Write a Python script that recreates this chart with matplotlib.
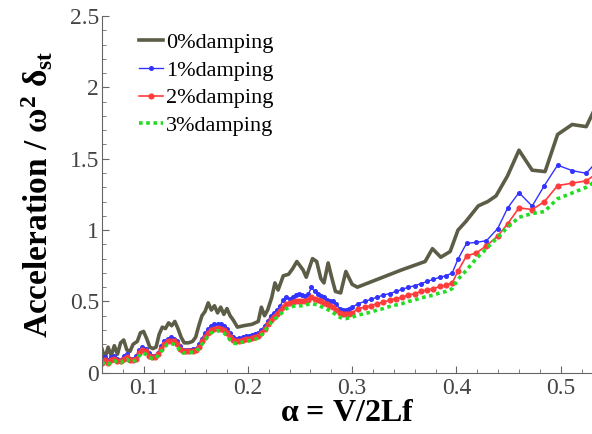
import matplotlib
matplotlib.use("Agg")
import matplotlib.pyplot as plt
from matplotlib.ticker import MultipleLocator

plt.rcParams["font.family"] = ["Liberation Serif", "DejaVu Serif"]
plt.rcParams["mathtext.fontset"] = "custom"
plt.rcParams["mathtext.rm"] = "Liberation Serif"
plt.rcParams["mathtext.it"] = "Liberation Serif:italic"
plt.rcParams["mathtext.bf"] = "Liberation Serif:bold"
plt.rcParams["mathtext.default"] = "bf"

# 0% damping (no markers, own sampling)
alpha_0 = [0.060, 0.063, 0.066, 0.069, 0.072, 0.075, 0.078, 0.081, 0.084, 0.087,
           0.090, 0.094, 0.097, 0.100, 0.103, 0.106, 0.109, 0.112, 0.115, 0.118,
           0.121, 0.124, 0.127, 0.130, 0.133, 0.136, 0.139, 0.143, 0.147, 0.150,
           0.153, 0.156, 0.159, 0.162, 0.165, 0.168, 0.171, 0.174, 0.177, 0.180,
           0.183, 0.186, 0.190, 0.196, 0.204, 0.210, 0.213, 0.216, 0.219, 0.223,
           0.226, 0.229, 0.234, 0.239, 0.243, 0.247, 0.253, 0.256, 0.262, 0.266,
           0.270, 0.273, 0.277, 0.280, 0.284, 0.289, 0.294, 0.300, 0.305, 0.347,
           0.370, 0.377, 0.385, 0.394, 0.4015, 0.409, 0.421, 0.430, 0.438, 0.449,
           0.460, 0.4726, 0.485, 0.497, 0.511, 0.5245, 0.536]
damp_0 = [0.17, 0.10, 0.18, 0.12, 0.19, 0.13, 0.21, 0.23, 0.16, 0.15,
          0.20, 0.22, 0.28, 0.29, 0.24, 0.18, 0.17, 0.18, 0.27, 0.32,
          0.31, 0.35, 0.33, 0.36, 0.31, 0.25, 0.21, 0.21, 0.22, 0.25,
          0.33, 0.40, 0.43, 0.49, 0.44, 0.47, 0.42, 0.46, 0.41, 0.45,
          0.40, 0.37, 0.32, 0.33, 0.34, 0.36, 0.46, 0.40, 0.44, 0.53,
          0.63, 0.58, 0.68, 0.69, 0.73, 0.78, 0.72, 0.67, 0.80, 0.78,
          0.66, 0.63, 0.77, 0.68, 0.57, 0.56, 0.71, 0.62, 0.60, 0.72,
          0.78, 0.87, 0.81, 0.85, 1.00, 1.06, 1.17, 1.20, 1.24, 1.38,
          1.56, 1.42, 1.41, 1.67, 1.74, 1.725, 1.90]

# damped cases share one sampling
alpha_d = [0.060, 0.063, 0.066, 0.069, 0.072, 0.075, 0.078, 0.081, 0.084, 0.087,
           0.090, 0.093, 0.096, 0.099, 0.102, 0.105, 0.108, 0.111, 0.114, 0.117,
           0.120, 0.123, 0.126, 0.129, 0.132, 0.135, 0.138, 0.141, 0.144, 0.147,
           0.150, 0.153, 0.156, 0.159, 0.162, 0.165, 0.168, 0.171, 0.174, 0.177,
           0.180, 0.183, 0.186, 0.189, 0.192, 0.195, 0.198, 0.201, 0.204, 0.207,
           0.210, 0.213, 0.216, 0.219, 0.222, 0.225, 0.228, 0.231, 0.234, 0.237,
           0.240, 0.243, 0.246, 0.249, 0.252, 0.255, 0.258, 0.261, 0.264, 0.267,
           0.270, 0.273, 0.276, 0.279, 0.282, 0.285, 0.288, 0.291, 0.294, 0.297,
           0.300, 0.306, 0.312, 0.318, 0.324, 0.330, 0.336, 0.342, 0.348, 0.354,
           0.360, 0.366, 0.372, 0.378, 0.384, 0.390, 0.396, 0.4015, 0.4097, 0.419,
           0.4288, 0.4395, 0.4492, 0.460, 0.4726, 0.4843, 0.497, 0.511, 0.5245, 0.537]
damp_1 = [0.09, 0.11, 0.09, 0.11, 0.12, 0.10, 0.09, 0.12, 0.13, 0.10,
          0.10, 0.12, 0.16, 0.18, 0.17, 0.14, 0.12, 0.12, 0.14, 0.19,
          0.22, 0.24, 0.25, 0.24, 0.22, 0.19, 0.16, 0.16, 0.16, 0.17,
          0.17, 0.20, 0.24, 0.28, 0.31, 0.33, 0.34, 0.345, 0.34, 0.33,
          0.31, 0.28, 0.25, 0.24, 0.245, 0.25, 0.255, 0.26, 0.265, 0.27,
          0.28, 0.30, 0.33, 0.36, 0.40, 0.42, 0.44, 0.47, 0.51, 0.53,
          0.52, 0.53, 0.545, 0.55, 0.545, 0.54, 0.55, 0.60, 0.57, 0.55,
          0.54, 0.53, 0.51, 0.50, 0.50, 0.48, 0.45, 0.44, 0.44, 0.45,
          0.46, 0.485, 0.50, 0.515, 0.53, 0.545, 0.555, 0.57, 0.585, 0.60,
          0.61, 0.625, 0.64, 0.655, 0.67, 0.68, 0.70, 0.797, 0.907, 0.914,
          0.926, 1.01, 1.156, 1.263, 1.168, 1.312, 1.455, 1.417, 1.398, 1.50]
damp_2 = [0.07, 0.09, 0.07, 0.09, 0.10, 0.08, 0.08, 0.10, 0.11, 0.09,
          0.09, 0.10, 0.14, 0.16, 0.15, 0.12, 0.11, 0.11, 0.13, 0.17,
          0.20, 0.22, 0.225, 0.22, 0.20, 0.17, 0.15, 0.15, 0.15, 0.155,
          0.16, 0.18, 0.22, 0.25, 0.28, 0.30, 0.31, 0.315, 0.31, 0.30,
          0.28, 0.25, 0.23, 0.22, 0.225, 0.23, 0.235, 0.24, 0.245, 0.25,
          0.26, 0.28, 0.31, 0.34, 0.37, 0.39, 0.41, 0.43, 0.46, 0.48,
          0.49, 0.495, 0.50, 0.50, 0.50, 0.505, 0.51, 0.53, 0.52, 0.51,
          0.50, 0.49, 0.48, 0.47, 0.46, 0.44, 0.42, 0.41, 0.41, 0.415,
          0.42, 0.45, 0.46, 0.47, 0.485, 0.495, 0.51, 0.52, 0.53, 0.545,
          0.555, 0.57, 0.58, 0.59, 0.605, 0.615, 0.63, 0.713, 0.82, 0.839,
          0.891, 0.958, 1.045, 1.156, 1.144, 1.199, 1.312, 1.329, 1.345, 1.41]
damp_3 = [0.06, 0.075, 0.06, 0.075, 0.085, 0.07, 0.07, 0.085, 0.095, 0.075,
          0.08, 0.09, 0.12, 0.14, 0.13, 0.11, 0.10, 0.10, 0.12, 0.15,
          0.18, 0.20, 0.205, 0.20, 0.18, 0.16, 0.14, 0.14, 0.14, 0.145,
          0.15, 0.17, 0.20, 0.23, 0.26, 0.28, 0.29, 0.295, 0.29, 0.28,
          0.26, 0.23, 0.21, 0.205, 0.21, 0.215, 0.22, 0.225, 0.23, 0.235,
          0.245, 0.265, 0.29, 0.32, 0.35, 0.37, 0.39, 0.41, 0.43, 0.45,
          0.46, 0.465, 0.47, 0.47, 0.47, 0.475, 0.48, 0.485, 0.48, 0.475,
          0.465, 0.455, 0.445, 0.435, 0.42, 0.405, 0.39, 0.38, 0.38, 0.385,
          0.39, 0.405, 0.415, 0.425, 0.44, 0.45, 0.465, 0.475, 0.485, 0.50,
          0.51, 0.525, 0.535, 0.545, 0.56, 0.57, 0.59, 0.655, 0.72, 0.80,
          0.87, 0.95, 1.02, 1.09, 1.116, 1.13, 1.22, 1.26, 1.30, 1.36]

labels = ["0%damping", "1%damping", "2%damping", "3%damping"]

fig = plt.figure(figsize=(5.92, 4.34), dpi=100)
ax = fig.add_axes([0.172, 0.141, 0.828, 0.822])

ax.plot(alpha_0, damp_0, color="#5d5d47", lw=2.6, label=labels[0])
ax.plot(alpha_d, damp_1, color="#3333ff", lw=1.0, marker="o", ms=2.6, label=labels[1])
ax.plot(alpha_d, damp_2, color="#ff3b3b", lw=1.2, marker="o", ms=3.4, label=labels[2])
ax.plot(alpha_d, damp_3, color="#22dd22", lw=2.6, linestyle=(0, (1, 1)), label=labels[3])

ax.set_xlim(0.06, 0.53)
ax.set_ylim(0, 2.5)
ax.xaxis.set_major_locator(MultipleLocator(0.1))
ax.xaxis.set_minor_locator(MultipleLocator(0.02))
ax.yaxis.set_major_locator(MultipleLocator(0.5))
ax.yaxis.set_minor_locator(MultipleLocator(0.1))
ax.tick_params(which="both", direction="in", colors="#666666", labelcolor="#444444",
               labelsize=17)
ax.tick_params(which="major", length=5)
ax.tick_params(which="minor", length=3)
ax.tick_params(axis="y", pad=2)
ax.yaxis.set_major_formatter(plt.FuncFormatter(lambda v, p: "0" if v == 0 else f"{v:g}"))

for s in ["top", "right"]:
    ax.spines[s].set_visible(False)
for s in ["left", "bottom"]:
    ax.spines[s].set_color("#666666")

ax.set_xlabel(r"$α$ = V/2Lf", fontsize=23, fontweight="bold", labelpad=0)
ax.set_ylabel(r"Acceleration / $ω^{2}$ $δ_{st}$", fontsize=24, fontweight="bold")
ax.yaxis.set_label_coords(-0.095, 0.5)

ax.legend(loc="upper left", bbox_to_anchor=(0.035, 1.01), frameon=False, fontsize=16,
          handlelength=1.1, handletextpad=0.1, labelspacing=0.32, numpoints=1)

fig.savefig("out.png", dpi=100)
